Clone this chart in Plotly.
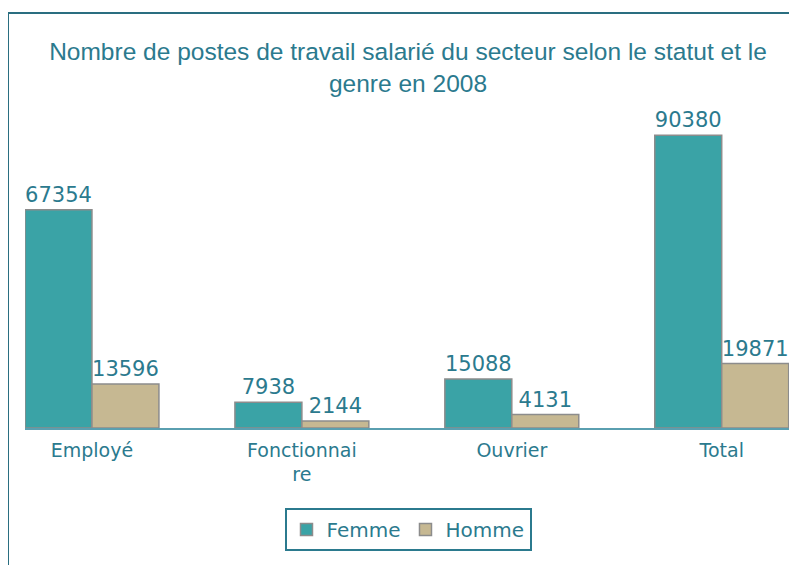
import plotly.graph_objects as go

categories = ["Employé", "Fonctionnaire", "Ouvrier", "Total"]
tick_labels = ["Employé", "Fonctionnai<br>re", "Ouvrier", "Total"]
femme = [67354, 7938, 15088, 90380]
homme = [13596, 2144, 4131, 19871]
series_names = ["Femme", "Homme"]

TEXT = "#2b7a8e"
FEMME_C = "#3aa3a6"
HOMME_C = "#c6b892"
OUTLINE = "#8c8c8c"

fig = go.Figure()
for name, vals, col in [(series_names[0], femme, FEMME_C), (series_names[1], homme, HOMME_C)]:
    fig.add_trace(go.Bar(
        name=name, x=categories, y=vals,
        marker=dict(color=col, line=dict(color=OUTLINE, width=1.5)),
        text=[str(v) for v in vals], textposition="outside",
        textfont=dict(family="DejaVu Sans", size=21, color=TEXT),
        cliponaxis=True,
    ))

# page shows the figure offset by the body margin of 8px
OFF = 8
W, H = 797, 565
ml, mr, mt, mb = 25 - OFF, W - (791 - OFF), 104 - OFF, H - (428 - OFF)
ph = H - mt - mb
pw = W - ml - mr
base = H - mb

fig.update_layout(
    width=W, height=H,
    margin=dict(l=ml, r=mr, t=mt, b=mb),
    paper_bgcolor="white", plot_bgcolor="white",
    barmode="group", bargap=0.362, bargroupgap=0,
    title=dict(
        text="Nombre de postes de travail salarié du secteur selon le statut et le<br>genre en 2008",
        x=0.5, xref="paper", xanchor="center",
        y=1 - (60 - OFF) / H, yref="container", yanchor="middle",
        font=dict(family="Liberation Sans", size=24.5, color=TEXT),
    ),
    xaxis=dict(
        type="category", range=[-0.319, 3.33],
        tickvals=categories, ticktext=tick_labels,
        showgrid=False, showline=True, linecolor="#5a9fb0", linewidth=1.5,
        ticks="outside", ticklen=4, tickcolor="rgba(0,0,0,0)",
        tickfont=dict(family="DejaVu Sans", size=19, color=TEXT),
        zeroline=False,
    ),
    yaxis=dict(range=[0, 100000], visible=False, showgrid=False),
    legend=dict(
        orientation="h", x=0.5, xanchor="center", y=-((508 - OFF) - base) / ph, yanchor="top",
        bordercolor=TEXT, borderwidth=2,
        font=dict(family="DejaVu Sans", size=20, color=TEXT),
        itemwidth=30,
    ),
    showlegend=True,
)

# outer frame (top and left edges visible, rest beyond the window)
fig.add_shape(type="rect", xref="paper", yref="paper",
              x0=(8 - OFF - ml) / pw, x1=(W + 20 - ml) / pw,
              y0=-(H + 20 - base) / ph, y1=(base - (13 - OFF)) / ph,
              line=dict(color="#2a6e80", width=2), fillcolor="rgba(0,0,0,0)", layer="above")

fig.write_html("out.html")
